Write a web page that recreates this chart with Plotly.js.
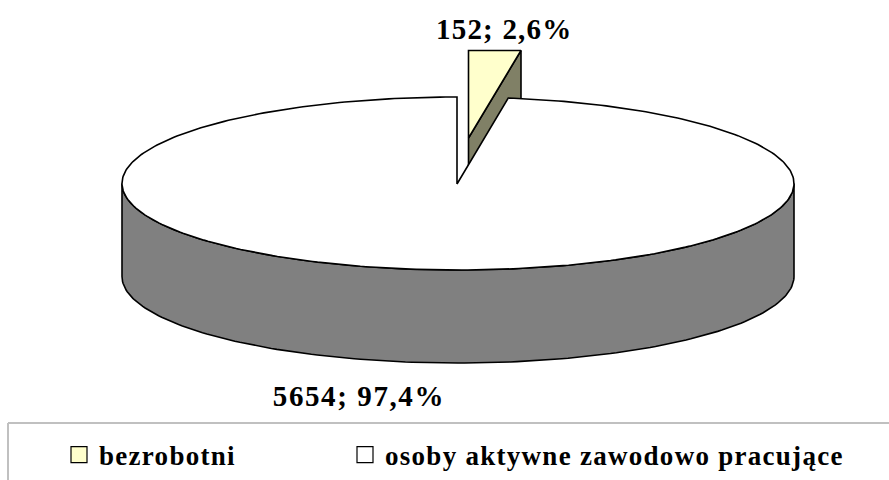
<!DOCTYPE html>
<html>
<head>
<meta charset="utf-8">
<script src="https://cdn.plot.ly/plotly-3.0.1.min.js"></script>
<style>
html,body{margin:0;padding:0;background:#fff;overflow:hidden}
#chart{width:889px;height:480px}
.annotation-text{letter-spacing:1.2px}
.annotation[data-index="1"] .annotation-text{letter-spacing:1.6px}
.legendtext,.legend2text{letter-spacing:1.28px}
</style>
</head>
<body>
<div id="chart"></div>
<script>
// Data
const categories = ['bezrobotni', 'osoby aktywne zawodowo pracujące'];
const values = [152, 5654];
const dataLabels = ['152; 2,6%', '5654; 97,4%'];
const topColors = ['#ffffcc', '#ffffff'];
const wallColors = ['#808066', '#808080'];

// Pie projection, in the pixel-like units of the hidden axes
const cx = 458, cy = 183.5, rx = 336, ry = 86.5, depth = 93;
const apex = [457, 184];
const explode = [11.5, -46];
const startAngle = Math.asin((apex[0] - cx) / rx);
const sweepView = 0.93;   // perspective foreshortening of the wedge

const total = values.reduce((a, b) => a + b, 0);
const wedge = 2 * Math.PI * (values[0] / total) * sweepView;
const endAngle = startAngle + wedge;

function rim(t) { return [cx + rx * Math.sin(t), cy - ry * Math.cos(t)]; }
function arc(a, b, n) {
  const out = [];
  for (let i = 0; i <= n; i++) out.push(rim(a + (b - a) * i / n));
  return out;
}
function poly(points, fill, name) {
  const closed = points.concat([points[0]]);
  return {
    x: closed.map(p => p[0]), y: closed.map(p => p[1]),
    type: 'scatter', mode: 'lines', fill: 'toself', fillcolor: fill,
    line: {color: '#000', width: 1.6}, showlegend: false, hoverinfo: 'skip', name: name
  };
}
const shift = (p, dx, dy) => [p[0] + dx, p[1] + dy];

// small exploded slice
const sApex = shift(apex, explode[0], explode[1]);
const sA = shift(rim(startAngle), explode[0], explode[1] - 0.5);
const sB = [521, sA[1]];
const smallWall = poly([sApex, sB, shift(sB, 0, depth), shift(sApex, 0, depth)], wallColors[0], categories[0]);
const smallTop = poly([sApex, sA, sB], topColors[0], categories[0]);

// large slice
const lowerArc = arc(Math.PI / 2, 3 * Math.PI / 2, 160);
const largeWall = poly(lowerArc.concat(lowerArc.slice().reverse().map(p => shift(p, 0, depth))), wallColors[1], categories[1]);
const largeTop = poly([apex].concat(arc(endAngle, startAngle + 2 * Math.PI, 360)), topColors[1], categories[1]);

// legend entries
const legendIds = ['legend', 'legend2'];
const legendTraces = categories.map((c, i) => ({
  x: [null], y: [null], type: 'scatter', mode: 'markers', name: c, legend: legendIds[i],
  marker: {symbol: 'square', size: 17, color: topColors[i], line: {color: '#000', width: 1.2}},
  hoverinfo: 'skip'
}));

const font = 'Liberation Serif, Times New Roman, serif';
const legendBase = {
  orientation: 'h', xanchor: 'left', y: 1 - 455 / 480, yanchor: 'middle', itemwidth: 30,
  bgcolor: 'rgba(0,0,0,0)', font: {family: font, size: 27, color: '#000', weight: 'bold'}
};
const layout = {
  width: 889, height: 480,
  margin: {l: 0, r: 0, t: 0, b: 0},
  paper_bgcolor: '#fff', plot_bgcolor: '#fff',
  xaxis: {range: [0, 889], visible: false, fixedrange: true},
  yaxis: {range: [480, 0], visible: false, fixedrange: true},
  shapes: [
    {type: 'line', xref: 'paper', yref: 'paper', x0: 8 / 889, x1: 1, y0: 1 - 423 / 480, y1: 1 - 423 / 480, line: {color: '#c0c0c0', width: 2}},
    {type: 'line', xref: 'paper', yref: 'paper', x0: 8 / 889, x1: 8 / 889, y0: 1 - 423 / 480, y1: 0, line: {color: '#c0c0c0', width: 2}}
  ],
  annotations: [
    {text: '<b>' + dataLabels[0] + '</b>', x: 504, y: 29, xref: 'x', yref: 'y', showarrow: false, font: {family: font, size: 29, color: '#000'}},
    {text: '<b>' + dataLabels[1] + '</b>', x: 359, y: 396, xref: 'x', yref: 'y', showarrow: false, font: {family: font, size: 29, color: '#000'}}
  ],
  legend: Object.assign({x: 59 / 889}, legendBase),
  legend2: Object.assign({x: 345 / 889}, legendBase),
  showlegend: true,
  hovermode: false
};

Plotly.newPlot('chart', [smallWall, smallTop, largeWall, largeTop].concat(legendTraces), layout, {displayModeBar: false, staticPlot: true});
</script>
</body>
</html>
